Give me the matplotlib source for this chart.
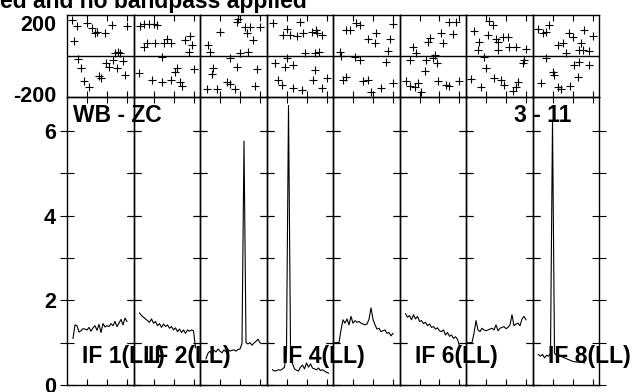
import numpy as np
import matplotlib
matplotlib.use("Agg")
import matplotlib.pyplot as plt

plt.rcParams['font.family'] = ['Liberation Sans', 'DejaVu Sans']
plt.rcParams['font.weight'] = 'bold'
plt.rcParams['axes.unicode_minus'] = False

W, H = 636, 392

title = "ed and no bandpass applied"
baseline_label = "WB - ZC"
time_label = "3 - 11"
if_labels = ["IF 1(LL)", "IF 2(LL)", "", "IF 4(LL)", "", "IF 6(LL)", "", "IF 8(LL)"]

amp_ticklabels = [0, 2, 4, 6]
phase_ticklabels = [-200, 200]

# amplitude spectra: first channel and values per IF
amp_start = [3, 3, 3, 3, 1, 3, 1, 3]
amp_if1 = [1.10, 1.42, 1.40, 1.25, 1.28, 1.33, 1.32, 1.30, 1.36, 1.27, 1.35, 1.40, 1.29, 1.43,
           1.24, 1.45, 1.37, 1.40, 1.38, 1.45, 1.40, 1.50, 1.38, 1.46, 1.55, 1.42, 1.58, 1.50]
amp_if2 = [1.70, 1.64, 1.60, 1.56, 1.52, 1.48, 1.56, 1.46, 1.50, 1.40, 1.45, 1.36, 1.44, 1.38,
           1.42, 1.34, 1.38, 1.30, 1.35, 1.26, 1.32, 1.24, 1.30, 1.22, 1.30, 1.27, 1.30, 1.28, 0.88]
amp_if3 = [0.62, 0.75, 0.80, 0.72, 0.82, 0.78, 0.85, 0.80, 0.76, 0.83, 0.78, 0.84, 0.80, 0.82,
           0.83, 0.80, 0.84, 0.85, 0.98, 5.76, 1.00, 0.97, 1.00, 0.94, 0.99, 1.03, 1.08, 1.00]
amp_if4 = [0.36, 0.33, 0.34, 0.36, 0.35, 0.38, 0.42, 0.80, 6.60, 0.90, 0.50, 0.38, 0.35, 0.33,
           0.42, 0.47, 0.38, 0.52, 0.42, 0.50, 0.40, 0.38, 0.36, 0.40, 0.34, 0.36, 0.33, 0.30, 0.28]
amp_if5 = [1.00, 1.00, 1.00, 1.30, 1.54, 1.46, 1.56, 1.42, 1.62, 1.46, 1.52, 1.48, 1.50, 1.46,
           1.44, 1.42, 1.44, 1.55, 1.82, 1.55, 1.42, 1.32, 1.34, 1.26, 1.28, 1.30, 1.22, 1.24, 1.16, 1.22]
amp_if6 = [1.68, 1.60, 1.64, 1.54, 1.66, 1.56, 1.62, 1.50, 1.52, 1.45, 1.48, 1.40, 1.44, 1.36,
           1.38, 1.32, 1.35, 1.28, 1.26, 1.30, 1.18, 1.24, 1.15, 1.18, 1.10, 1.14, 1.08, 0.92]
amp_if7 = [1.00, 1.00, 1.00, 1.22, 1.52, 1.30, 1.26, 1.34, 1.30, 1.28, 1.30, 1.32, 1.34, 1.30,
           1.42, 1.28, 1.34, 1.36, 1.38, 1.33, 1.36, 1.42, 1.66, 1.40, 1.44, 1.46, 1.40, 1.56, 1.62, 1.54]
amp_if8 = [0.72, 0.68, 0.72, 0.64, 0.70, 0.68, 0.75, 6.25, 0.75, 0.70, 0.72, 0.68, 0.66, 0.64,
           0.62, 0.60, 0.58, 0.56, 0.55, 0.54, 0.55, 0.53, 0.54, 0.52]
amps = [amp_if1, amp_if2, amp_if3, amp_if4, amp_if5, amp_if6, amp_if7, amp_if8]

# phase points (channel, degrees) per IF
ph_ch1 = [2.3, 4.8, 9.8, 12.3, 14, 14.8, 19, 22.3, 29.8, 3.7, 24, 25.7, 26.5, 5.3, 7, 8.7, 10.8,
          17, 16.2, 19.5, 21.2, 22.8, 24.8, 27.8, 28.8]
ph_v1 = [176, 146, 159, 135, 111, 119, 111, 151, 146, 75, 13, 21, 16, -16, -60, -122, -150,
         -109, -98, -36, -52, -20, -60, -24, -93]
ph_ch2 = [3.3, 5, 7.5, 10, 11.7, 6.7, 5, 10.8, 15, 16.7, 18.7, 25.8, 28.3, 29.2, 27.5, 14.2, 2.5,
          9.2, 14.2, 18.7, 20.8, 21.7, 23.3, 24.2, 30]
ph_v2 = [146, 154, 156, 154, 151, 62, 46, 62, 65, 81, 62, 78, 98, 54, 21, -3, -81, -117, -125,
         -117, -76, -60, -125, -146, -65]
ph_ch3 = [4.2, 5, 10, 18.3, 19.2, 22.5, 25, 30, 23.3, 26.7, 24.2, 20, 15, 6.7, 5.8, 3.3, 8.3,
          13.3, 15, 18.7, 28.3, 27.5, 17.5]
ph_v3 = [54, 21, 119, 167, 179, 143, 143, 143, 114, 78, 21, 13, -11, -60, -88, -163, -163, -125,
         -137, -52, -65, -146, -163]
ph_ch4 = [3.3, 10, 16.7, 8.3, 11.7, 15, 18.3, 22.5, 25, 19.2, 24.2, 4.2, 10, 9.2, 13.3, 5.8, 7.5,
          13.3, 17.5, 23.3, 24.2, 24.5, 27.8, 26.2, 30.3, 27.8]
ph_v4 = [159, 130, 167, 102, 102, 98, 111, 119, 111, 16, 16, -36, -11, -52, -44, -117, -141,
         -158, -166, -117, -68, 127, 102, 21, -109, -158]
ph_ch5 = [6.7, 8.3, 11.7, 13.3, 30, 17.5, 21.7, 20.8, 28.3, 27.5, 3.3, 4.2, 10.8, 13.3, 26.7, 6.7,
          15, 17.5, 19.2, 24.2, 30, 5]
ph_v5 = [127, 127, 163, 151, 156, 81, 111, 62, 81, 26, 21, 0, -7, -20, -28, -104, -120, -117,
         -174, -158, -130, -117]
ph_ch6 = [25, 28.3, 20.8, 26.7, 14.2, 15, 21.7, 6.7, 8.3, 17.5, 16.7, 5, 13.3, 18.7, 12.5, 3.3, 5,
          7.5, 9.2, 10.8, 19.5, 25, 30, 23.3]
ph_v6 = [167, 167, 114, 107, 70, 86, 62, 46, 13, 5, -11, -20, -20, -36, -73, -120, -146, -150,
         -133, -174, -120, -146, -120, -141]
ph_ch7 = [4.2, 11.7, 13.3, 10.8, 15, 15.8, 18.3, 20.8, 21.7, 25, 30, 6.7, 5.8, 15.8, 9.2, 10,
          29.2, 28.3, 2.5, 7.5, 14.2, 17.5, 19.2, 23.3, 25.8, 25]
ph_v7 = [122, 172, 151, 102, 81, 70, 94, 94, 46, 46, 33, 70, 29, 29, -7, -60, -20, -36, -114,
         -153, -109, -117, -141, -169, -125, -153]
ph_ch8 = [2.5, 5, 8.3, 6.7, 18.3, 20.3, 25.8, 30, 15, 12.5, 24.2, 25, 28.3, 23.3, 16.7, 6.7, 23.3,
          20.8, 28.3, 10, 10.8, 22.5, 4.2, 12.5, 14.2, 18.7]
ph_v8 = [130, 114, 151, 119, 111, 91, 127, 98, 65, 54, 62, 29, 26, 29, 13, -11, -28, -44, -44,
         -76, -93, -104, -133, -153, -163, -146]
ph_chs = [ph_ch1, ph_ch2, ph_ch3, ph_ch4, ph_ch5, ph_ch6, ph_ch7, ph_ch8]
ph_vals = [ph_v1, ph_v2, ph_v3, ph_v4, ph_v5, ph_v6, ph_v7, ph_v8]

fig = plt.figure(figsize=(W / 100, H / 100), dpi=100)

x0, x1 = 67, 599
amp_bot, amp_top = 385, 97
ph_top = 15
pw = (x1 - x0) / 8
FS = 16.5

def fx(px):
    return px / W

def fy(py):
    return 1 - py / H

for i in range(8):
    left = x0 + i * pw
    axp = fig.add_axes([fx(left), fy(amp_top), pw / W, (amp_top - ph_top) / H])
    axa = fig.add_axes([fx(left), fy(amp_bot), pw / W, (amp_bot - amp_top) / H])
    for ax in (axp, axa):
        ax.set_facecolor('none')
        ax.set_xlim(0, pw / 2)
        for s in ax.spines.values():
            s.set_linewidth(1.0)
            s.set_color('black')
        ax.set_xticks([10, 20, 30])
        ax.tick_params(axis='x', direction='in', top=True, bottom=True, length=4,
                       width=0.8, labelbottom=False)
    # phase
    axp.scatter(ph_chs[i], ph_vals[i], marker='+', s=40, c='black', linewidths=0.8)
    axp.axhline(0, color='black', lw=1.0)
    axp.set_ylim(-200, 200)
    if i == 0:
        axp.set_yticks(phase_ticklabels)
        axp.tick_params(axis='y', length=0, pad=8, labelsize=FS - 1)
        labs = axp.get_yticklabels()
        for lab in labs:
            lab.set_fontweight('bold')
        labs[1].set_va('top')
        labs[0].set_va('center')
    else:
        axp.set_yticks([])
    # amplitude
    xs = np.arange(amp_start[i], amp_start[i] + len(amps[i]))
    axa.plot(xs, amps[i], color='black', lw=0.8)
    axa.set_ylim(0, 6.8)
    axa.set_yticks(range(0, 7))
    axa.tick_params(axis='y', direction='inout', left=True, right=True, length=10,
                    width=0.8, pad=3, labelsize=FS - 1)
    if i == 0:
        axa.set_yticklabels([str(v) if v in amp_ticklabels else '' for v in range(0, 7)],
                            fontweight='bold')
    else:
        axa.tick_params(axis='y', labelleft=False)
    if if_labels[i]:
        fig.text(fx(left + 15), fy(357), if_labels[i], fontsize=FS, fontweight='bold',
                 ha='left', va='center', zorder=10)

fig.text(fx(73), fy(115), baseline_label, fontsize=FS, fontweight='bold', ha='left',
         va='center', zorder=10)
fig.text(fx(514), fy(115), time_label, fontsize=FS, fontweight='bold', ha='left',
         va='center', zorder=10)
fig.text(fx(307), fy(8), title, fontsize=FS, fontweight='bold', ha='right', va='baseline')

fig.savefig("out.png", dpi=100)
